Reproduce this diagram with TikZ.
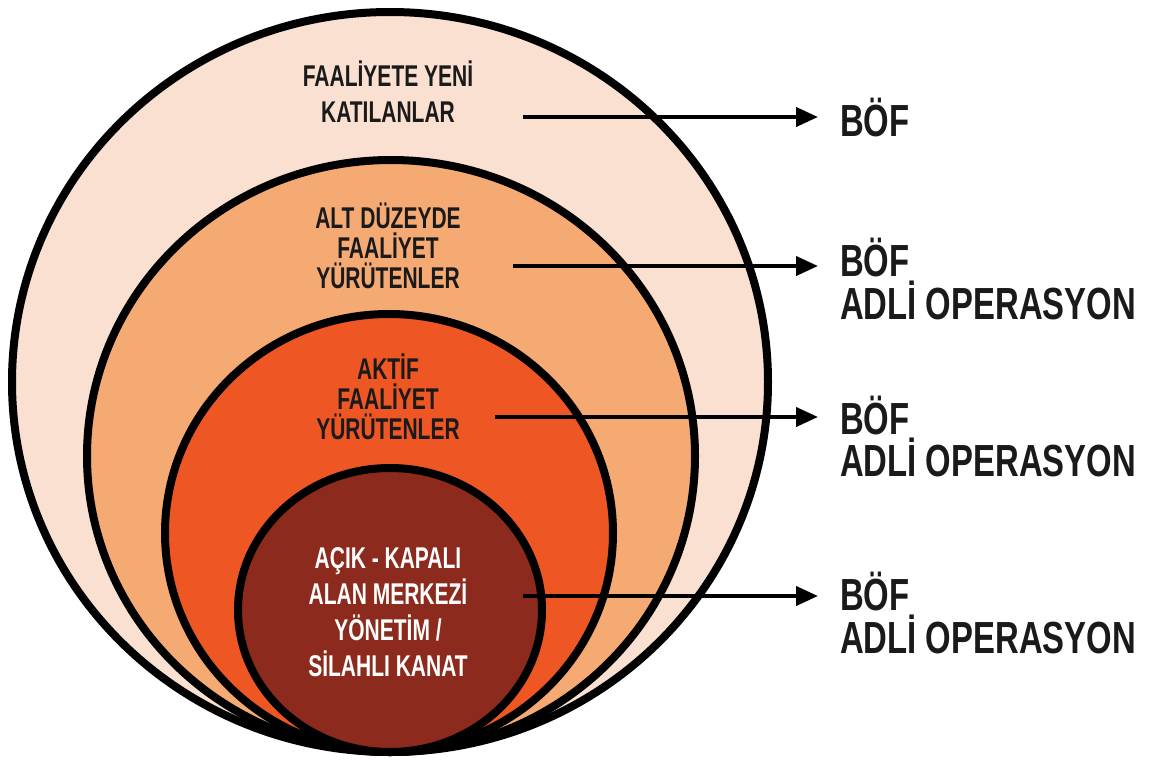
\documentclass[tikz,border=0pt]{standalone}
\usepackage{fontspec}
\usetikzlibrary{arrows.meta}
\newfontfamily\lblfont[FakeStretch=0.70]{Liberation Sans}
\newfontfamily\rtfont[FakeStretch=0.73]{Liberation Sans}
\definecolor{ringA}{HTML}{F9E0D1}
\definecolor{ringB}{HTML}{F5AA74}
\definecolor{ringC}{HTML}{EE5623}
\definecolor{ringD}{HTML}{8C2B1D}
\definecolor{ink}{HTML}{1A1A1A}
\begin{document}
\begin{tikzpicture}[x=1pt,y=-1pt,
  ring/.style={draw=black,line width=8pt},
  lbl/.style={font=\lblfont\bfseries\fontsize{30}{30}\selectfont,align=center,inner sep=0pt,text=ink},
  lblwide/.style={lbl,font=\lblfont\bfseries\fontsize{30}{36}\selectfont},
  rt/.style={font=\rtfont\bfseries\fontsize{45}{45}\selectfont,anchor=base west,inner sep=0pt,text=ink},
  arr/.style={draw=black,line width=4pt,-{Triangle[length=22pt,width=19pt]},shorten >=22pt}]
\useasboundingbox (0,0) rectangle (1149,763);
\fill[white] (0,0) rectangle (1149,763);
% nested ellipses, all tangent at the bottom
\filldraw[ring,fill=ringA] (390,382) ellipse [x radius=378pt, y radius=370pt];
\filldraw[ring,fill=ringB] (391,456) ellipse [x radius=304pt, y radius=296pt];
\filldraw[ring,fill=ringC] (389,533) ellipse [x radius=224pt, y radius=219pt];
\filldraw[ring,fill=ringD] (390,610) ellipse [x radius=152pt, y radius=142pt];
% labels inside
\node[lblwide] (g1) at (388,92) {FAALİYETE YENİ\\KATILANLAR};
\node[lbl] (g2) at (388,246) {ALT DÜZEYDE\\FAALİYET\\YÜRÜTENLER};
\node[lbl] (g3) at (388,397) {AKTİF\\FAALİYET\\YÜRÜTENLER};
\node[lblwide,text=white] (g4) at (388,612) {AÇIK - KAPALI\\ALAN MERKEZİ\\YÖNETİM /\\SİLAHLI KANAT};
% right texts
\node[rt] (b1) at (840,136) {BÖF};
\node[rt] (b2) at (840,276) {BÖF};
\node[rt] (o2) at (840,319) {ADLİ OPERASYON};
\node[rt] (b3) at (840,434) {BÖF};
\node[rt] (o3) at (840,476) {ADLİ OPERASYON};
\node[rt] (b4) at (840,610) {BÖF};
\node[rt] (o4) at (840,653) {ADLİ OPERASYON};
% arrows
\coordinate (s1) at (523,117);
\coordinate (s2) at (513,266);
\coordinate (s3) at (495,417);
\coordinate (s4) at (523,596);
\draw[arr] (s1) -- (s1 -| b1.west);
\draw[arr] (s2) -- (s2 -| b2.west);
\draw[arr] (s3) -- (s3 -| b3.west);
\draw[arr] (s4) -- (s4 -| b4.west);
\end{tikzpicture}
\end{document}
